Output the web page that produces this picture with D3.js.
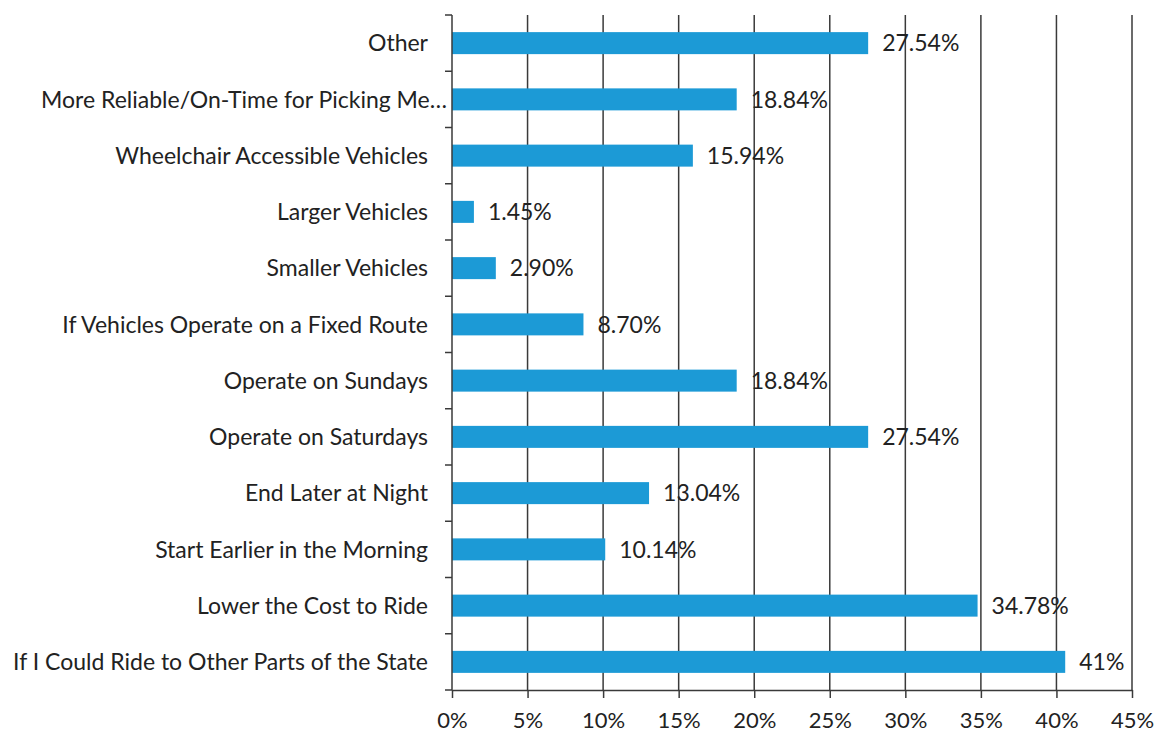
<!DOCTYPE html>
<html><head><meta charset="utf-8">
<script src="https://cdn.jsdelivr.net/npm/d3@7/dist/d3.min.js"></script>
<style>body{margin:0;background:#fff}svg{display:block}</style>
</head><body>
<script>
const categories = ["Other","More Reliable/On-Time for Picking Me\u2026","Wheelchair Accessible Vehicles","Larger Vehicles","Smaller Vehicles","If Vehicles Operate on a Fixed Route","Operate on Sundays","Operate on Saturdays","End Later at Night","Start Earlier in the Morning","Lower the Cost to Ride","If I Could Ride to Other Parts of the State"];
const values = [27.54,18.84,15.94,1.45,2.90,8.70,18.84,27.54,13.04,10.14,34.78,40.58];
const valueLabels = ["27.54%","18.84%","15.94%","1.45%","2.90%","8.70%","18.84%","27.54%","13.04%","10.14%","34.78%","41%"];
const xTicks = [0,5,10,15,20,25,30,35,40,45];

const W=1159,H=733;
const m={left:452,right:27,top:15,bottom:43};
const svg=d3.select("body").append("svg").attr("width",W).attr("height",H);
const x=d3.scaleLinear().domain([0,45]).range([m.left,W-m.right]);
const yb=d3.scaleBand().domain(categories).range([m.top,H-m.bottom]);
const font="Lato, 'Open Sans', sans-serif";
const ax="#3a3a3a";

// gridlines
svg.append("g").selectAll("line").data(xTicks.slice(1)).join("line")
  .attr("x1",d=>x(d)).attr("x2",d=>x(d)).attr("y1",m.top).attr("y2",H-m.bottom)
  .attr("stroke",ax).attr("stroke-width",1.5);

// bars
svg.append("g").selectAll("rect").data(values).join("rect")
  .attr("x",x(0)).attr("y",(d,i)=>yb(categories[i])+yb.bandwidth()/2-11)
  .attr("width",d=>x(d)-x(0)).attr("height",22).attr("fill","#1c9ad6");

// x axis
const xa=svg.append("g").attr("transform",`translate(0,${H-m.bottom})`)
  .call(d3.axisBottom(x).tickValues(xTicks).tickFormat(d=>d+"%").tickSize(8).tickSizeOuter(0));
xa.select(".domain").attr("stroke",ax).attr("stroke-width",1.5);
xa.selectAll(".tick line").attr("stroke",ax).attr("stroke-width",1.5);
xa.selectAll("text").attr("font-family",font).attr("font-size",22).attr("fill","#222").attr("y",38).attr("dy",null);

// y axis line and ticks at band boundaries
svg.append("line").attr("x1",x(0)).attr("x2",x(0)).attr("y1",m.top).attr("y2",H-m.bottom).attr("stroke",ax).attr("stroke-width",1.5);
const bounds=categories.map(c=>yb(c)).concat([H-m.bottom]);
svg.append("g").selectAll("line").data(bounds).join("line")
  .attr("x1",x(0)-7).attr("x2",x(0)).attr("y1",d=>d).attr("y2",d=>d).attr("stroke",ax).attr("stroke-width",1.5);

// category labels
svg.append("g").selectAll("text").data(categories).join("text")
  .attr("x",(d,i)=>i===1?447:428).attr("y",d=>yb(d)+yb.bandwidth()/2).attr("dy","0.36em")
  .attr("text-anchor","end").attr("font-family",font).attr("font-size",23).attr("fill","#222").text(d=>d);

// value labels
svg.append("g").selectAll("text").data(values).join("text")
  .attr("x",d=>x(d)+14).attr("y",(d,i)=>yb(categories[i])+yb.bandwidth()/2).attr("dy","0.36em")
  .attr("font-family",font).attr("font-size",23).attr("fill","#222").text((d,i)=>valueLabels[i]);
</script>
</body></html>
